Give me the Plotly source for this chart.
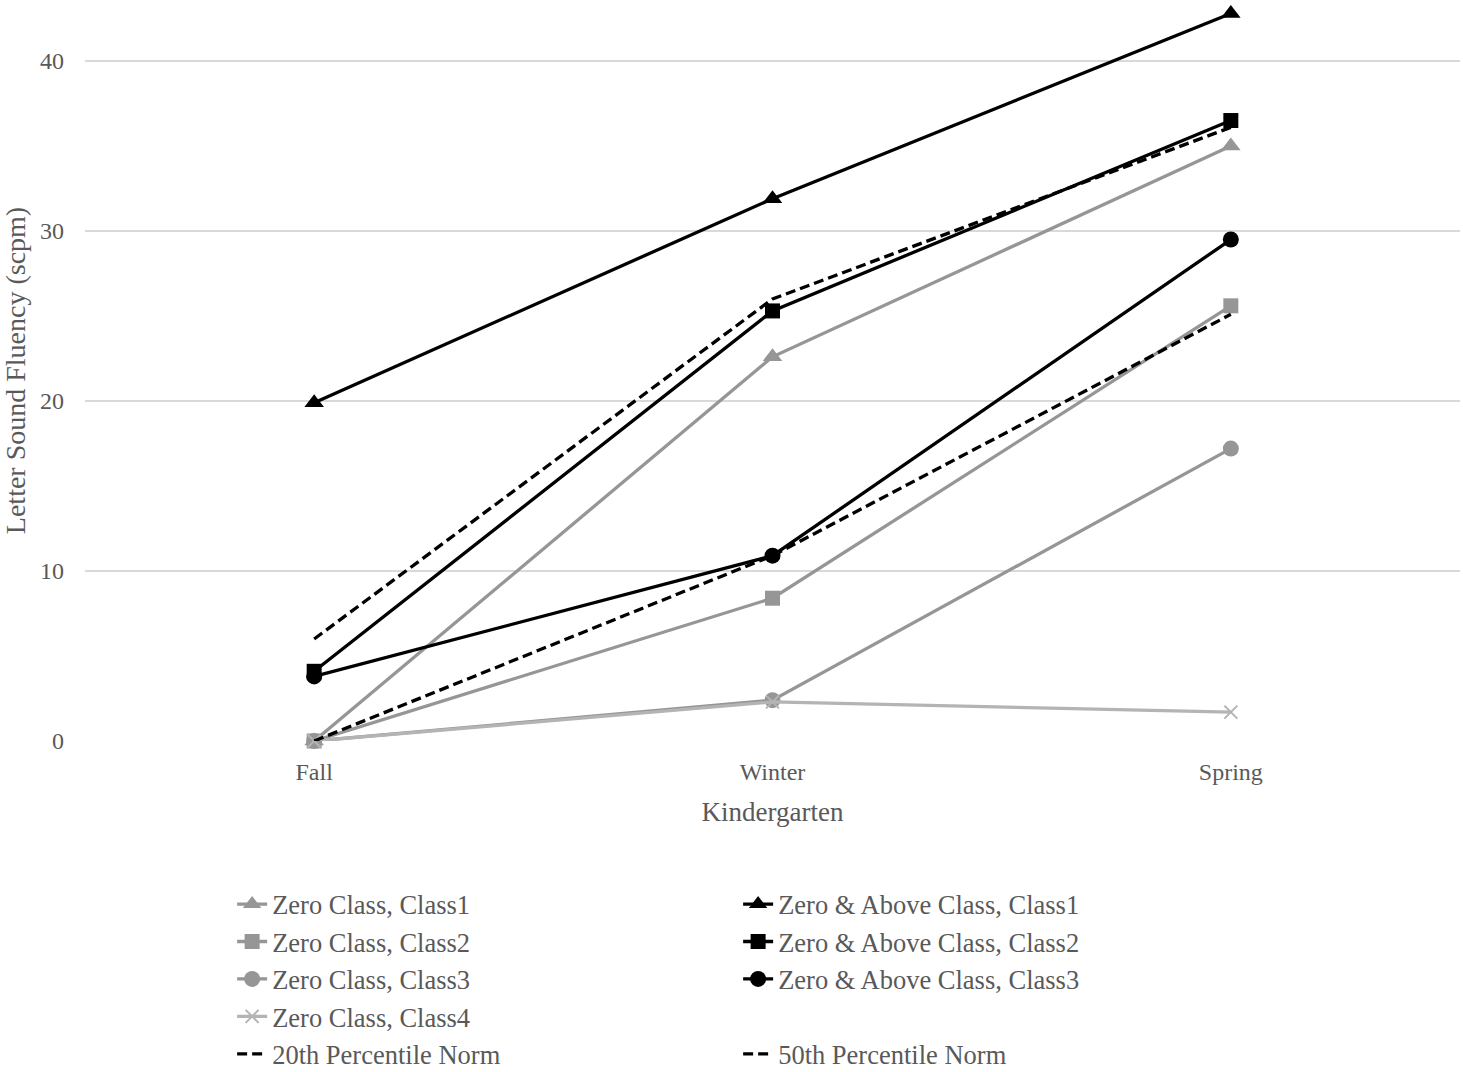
import plotly.graph_objects as go

seasons = ["Fall", "Winter", "Spring"]

zero_class1 = [0, 22.6, 35.0]
zero_class2 = [0, 8.4, 25.6]
zero_class3 = [0, 2.4, 17.2]
zero_class4 = [0, 2.3, 1.7]
above_class1 = [19.9, 31.9, 42.8]
above_class2 = [4.1, 25.3, 36.5]
above_class3 = [3.8, 10.9, 29.5]
norm20 = [0, 10.9, 25.1]
norm50 = [6.0, 26.0, 36.1]

GRAY = "#969696"
LIGHT = "#b4b4b4"
BLACK = "#000000"
TXT = "#595959"
FONT = "Liberation Serif"

fig = go.Figure()

def add(name, y, color, symbol, legend, dash="solid", size=16):
    fig.add_trace(go.Scatter(
        x=seasons, y=y, name=name, legend=legend,
        mode="lines+markers" if symbol else "lines",
        line=dict(color=color, width=3.3, dash=dash),
        marker=dict(symbol=symbol or "circle", size=size, color=color,
                    line=dict(width=2 if symbol == "x-thin" else 0, color=color)),
        cliponaxis=False,
    ))

add("Zero Class, Class1", zero_class1, GRAY, "triangle-up", "legend", size=17)
add("Zero Class, Class2", zero_class2, GRAY, "square", "legend", size=15)
add("Zero Class, Class3", zero_class3, GRAY, "circle", "legend")
add("Zero Class, Class4", zero_class4, LIGHT, "x-thin", "legend", size=13)
add("Zero & Above Class, Class1", above_class1, BLACK, "triangle-up", "legend2", size=17)
add("Zero & Above Class, Class2", above_class2, BLACK, "square", "legend2", size=15)
add("Zero & Above Class, Class3", above_class3, BLACK, "circle", "legend2")
add("20th Percentile Norm", norm20, BLACK, None, "legend", dash="10px,5px")
fig.add_trace(go.Scatter(x=[None], y=[None], name=" ", legend="legend2",
                         mode="lines", line=dict(color="rgba(0,0,0,0)", width=3),
                         hoverinfo="skip"))
add("50th Percentile Norm", norm50, BLACK, None, "legend2", dash="10px,5px")

legend_common = dict(
    font=dict(family=FONT, size=26.5, color=TXT),
    bgcolor="rgba(0,0,0,0)", orientation="v", yanchor="top", xanchor="left",
    traceorder="normal", tracegroupgap=0,
)

fig.update_layout(
    width=1463, height=1072,
    margin=dict(l=85, r=3, t=0, b=331, autoexpand=False),
    paper_bgcolor="white", plot_bgcolor="white",
    font=dict(family=FONT, color=TXT),
    xaxis=dict(
        type="category", range=[-0.5, 2.5], showgrid=False, showline=False,
        zeroline=False, ticks="", tickfont=dict(size=24, color=TXT),
        ticklabelstandoff=14, automargin=False,
        title=dict(text="Kindergarten", font=dict(size=27, color=TXT), standoff=18),
    ),
    yaxis=dict(
        range=[0, 43.59], tickvals=[0, 10, 20, 30, 40], showgrid=True,
        gridcolor="#d9d9d9", gridwidth=2, zeroline=False, showline=False,
        ticks="", tickfont=dict(size=24, color=TXT), ticklabelstandoff=20,
        automargin=False,
        title=dict(text="Letter Sound Fluency (scpm)", font=dict(size=28, color=TXT), standoff=10),
    ),
    legend=dict(x=0.107, y=-0.188, **legend_common),
    legend2=dict(x=0.475, y=-0.188, **legend_common),
    showlegend=True,
)

fig.write_html("out.html", config={"displayModeBar": False},
               post_script="document.body.style.margin='0';")
